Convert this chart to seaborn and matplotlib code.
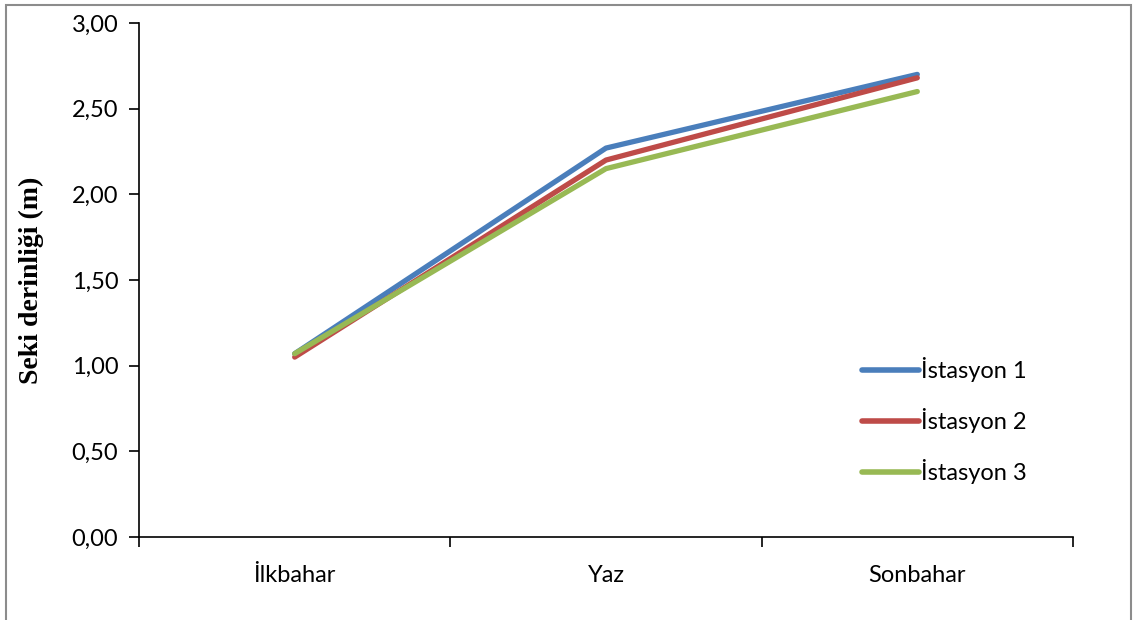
import matplotlib
matplotlib.use("Agg")
import matplotlib.pyplot as plt
from matplotlib.patches import Rectangle
from matplotlib.ticker import FixedLocator, FuncFormatter
import seaborn as sns
import pandas as pd

seasons = ["İlkbahar", "Yaz", "Sonbahar"]
istasyon_1 = [1.07, 2.27, 2.70]
istasyon_2 = [1.05, 2.20, 2.68]
istasyon_3 = [1.07, 2.15, 2.60]
station_names = ["İstasyon 1", "İstasyon 2", "İstasyon 3"]
y_ticks = [0.0, 0.5, 1.0, 1.5, 2.0, 2.5, 3.0]

rows = []
for name, vals in zip(station_names, [istasyon_1, istasyon_2, istasyon_3]):
    for i, (s, v) in enumerate(zip(seasons, vals)):
        rows.append({"Mevsim": s, "pos": i, "İstasyon": name, "Derinlik": v})
df = pd.DataFrame(rows)

sns.set_theme(style="white")
plt.rcParams["font.family"] = ["Lato", "DejaVu Sans"]
plt.rcParams["text.color"] = "black"
plt.rcParams["xtick.color"] = "black"
plt.rcParams["ytick.color"] = "black"
plt.rcParams["axes.labelcolor"] = "black"

fig = plt.figure(figsize=(11.36, 6.2), dpi=100)
ax = fig.add_axes([0.1224, 0.1339, 0.8221, 0.8290])

palette = ["#4a7ebb", "#be4b48", "#98b954"]
sns.lineplot(data=df, x="pos", y="Derinlik", hue="İstasyon", palette=palette,
             linewidth=3.8, ax=ax, solid_capstyle="round", legend=True)

ax.set_xlim(-0.5, 2.5)
ax.set_ylim(0, 3.0)
ax.xaxis.set_major_locator(FixedLocator([-0.5, 0.5, 1.5, 2.5]))
ax.xaxis.set_minor_locator(FixedLocator([0, 1, 2]))
ax.set_xticklabels([])
ax.set_xticklabels(seasons, minor=True)
ax.tick_params(axis="x", which="major", length=7, width=1.2, direction="out",
               color="black", bottom=True)
ax.tick_params(axis="x", which="minor", length=0, pad=20, labelsize=17,
               labelcolor="black")
ax.set_yticks(y_ticks)
ax.yaxis.set_major_formatter(FuncFormatter(lambda v, p: f"{v:.2f}".replace(".", ",")))
ax.tick_params(axis="y", length=7, width=1.2, direction="out", color="black",
               left=True, labelsize=17, pad=8, labelcolor="black")

for side in ["top", "right"]:
    ax.spines[side].set_visible(False)
for side in ["left", "bottom"]:
    ax.spines[side].set_color("black")
    ax.spines[side].set_linewidth(1.2)

ax.set_xlabel("")
ax.set_ylabel("Seki derinliği (m)", fontfamily="Liberation Serif",
              fontweight="bold", fontsize=20, labelpad=20, color="black")

leg = ax.legend(loc="center left", bbox_to_anchor=(0.774, 0.226), frameon=False,
                fontsize=17, handlelength=2.4, handletextpad=0.1,
                labelspacing=1.1, borderpad=0, borderaxespad=0)
for line in leg.get_lines():
    line.set_linewidth(4)
    line.set_solid_capstyle("round")
for t in leg.get_texts():
    t.set_color("black")

fig.patches.append(Rectangle((0.005, -0.01), 0.991, 1.002,
                             transform=fig.transFigure, fill=False,
                             edgecolor="#8c8c8c", linewidth=1.5))

fig.savefig("out.png", dpi=100, facecolor="white")
